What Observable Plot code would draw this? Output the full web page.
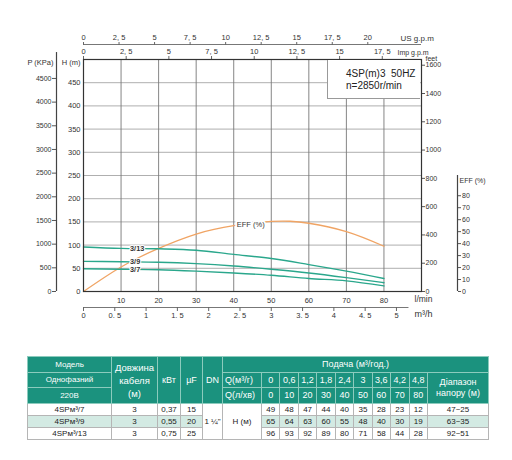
<!DOCTYPE html>
<html><head><meta charset="utf-8">
<script src="https://cdn.jsdelivr.net/npm/d3@7"></script>
<script src="https://cdn.jsdelivr.net/npm/@observablehq/plot@0.6"></script>
<style>
body{margin:0;background:#fff;font-family:"Liberation Sans",Arial,sans-serif;}
#wrap{position:relative;width:512px;height:460px;overflow:hidden;background:#fff;}
#chart{position:absolute;left:0;top:0;}
#box{position:absolute;left:327px;top:60px;width:93px;height:39px;background:#fff;border-left:1px solid #999;border-bottom:1px solid #999;font-size:10px;line-height:11.5px;color:#222;padding:8px 0 0 18px;box-sizing:border-box;white-space:pre;}
table{position:absolute;left:27px;top:356px;width:461px;border-collapse:collapse;table-layout:fixed;text-align:center;font-family:"Liberation Sans",Arial,sans-serif;}
th{background:#1b927e;color:#fff;font-weight:normal;border:1px solid #8ccbbd;padding:0;line-height:1;font-size:9px;}
td{border:1px solid #b5b5b5;color:#222;padding:0;line-height:1;font-size:8px;height:11px;}
tr.alt td.v{background:#d3eae3;}
tr.h1{height:16px;} tr.h2{height:15px;} tr.h3{height:16px;}
th.sm{font-size:8px;}
</style>
</head><body>
<div id="wrap"><div id="chart"></div><div id="box"></div><table id="tbl"></table></div>
<script>
// ---- data ----
const flowLmin = [0, 10, 20, 30, 40, 50, 60, 70, 80];
const flowM3hLabels = ["0", "0,6", "1,2", "1,8", "2,4", "3", "3,6", "4,2", "4,8"];
const head37 = [49, 48, 47, 44, 40, 35, 28, 23, 12];
const head39 = [65, 64, 63, 60, 55, 48, 40, 30, 19];
const head313 = [96, 93, 92, 89, 80, 71, 58, 44, 28];
const seriesNames = ["3/7", "3/9", "3/13"];
const effFlow = [0, 10, 20, 30, 40, 50, 55, 60, 70, 80];
const effPct = [0, 20.5, 36, 48, 55, 58.5, 58.7, 57, 50, 37.8];
const models = ["4SPм³/7", "4SPм³/9", "4SPм³/13"];
const cableLen = ["3", "3", "3"];
const powerKw = ["0,37", "0,55", "0,75"];
const capUf = ["15", "20", "25"];
const headRange = ["47~25", "63~35", "92~51"];
const hTicks = [0, 50, 100, 150, 200, 250, 300, 350, 400, 450];
const kpaTicks = [0, 500, 1000, 1500, 2000, 2500, 3000, 3500, 4000, 4500];
const feetTicks = [0, 200, 400, 600, 800, 1000, 1200, 1400, 1600];
const effTicks = [0, 10, 20, 30, 40, 50, 60, 70, 80];
const lminTicks = [10, 20, 30, 40, 50, 60, 70, 80];
const usGpmTicks = [0, 2.5, 5, 7.5, 10, 12.5, 15, 17.5, 20];
const impGpmTicks = [0, 2.5, 5, 7.5, 10, 12.5, 15, 17.5];
const m3hTicks = [0, 0.5, 1, 1.5, 2, 2.5, 3, 3.5, 4, 4.5, 5];
const titleLines = ["4SP(m)3  50HZ", "n=2850r/min"];

// unit conversions
const L_PER_US = 3.785, L_PER_IMP = 4.546, L_PER_M3H = 1000 / 60;
const KPA_PER_M = 9.8, M_PER_FT = 0.3048, M_PER_EFF = 2.58;

const headRows = [head37, head39, head313];
const headData = seriesNames.flatMap((name, i) => flowLmin.map((q, j) => ({name, q, h: headRows[i][j]})));
const effData = effFlow.map((q, i) => ({q, e: effPct[i] * M_PER_EFF}));
const r1 = v => Math.round(v * 10) / 10;
const fmtTop = v => String(r1(v)).replace(".", ", ");
const fmtBot = v => String(r1(v)).replace(".", ". ");
const fmtInt = v => String(Math.round(v));

const green = "#2aa78c", orange = "#f0a464", ink = "#333";

const chart = Plot.plot({
  width: 512, height: 335,
  marginLeft: 83, marginRight: 91, marginTop: 59, marginBottom: 44,
  x: {domain: [0, 90], axis: null, label: null},
  y: {domain: [0, 500], axis: null, label: null},
  style: {fontFamily: "Liberation Sans, Arial, sans-serif", fontSize: "7px", color: ink, background: "white"},
  marks: [
    Plot.gridY(hTicks.filter(d => d > 0), {stroke: "#9a9a9a", strokeOpacity: 1, strokeWidth: 0.8}),
    Plot.gridX(lminTicks, {stroke: "#777", strokeOpacity: 1, strokeWidth: 0.9}),
    // H axis
    Plot.axisY(hTicks, {anchor: "left", tickSize: 0, tickPadding: 3, fontSize: 7.5, tickFormat: fmtInt, label: null}),
    Plot.text(["H (m)"], {frameAnchor: "top-left", dx: -3, textAnchor: "end", fontSize: 7.5, fill: ink}),
    // P axis
    Plot.ruleX([0], {y1: 0, y2: 515, dx: -27, stroke: "#444", strokeWidth: 1.2}),
    Plot.axisY(kpaTicks.map(k => k / KPA_PER_M), {anchor: "left", dx: -27, tickSize: 4, tickPadding: 1, stroke: "#555", tickFormat: d => fmtInt(d * KPA_PER_M), fontSize: 7, label: null}),
    Plot.text(["P (KPa)"], {frameAnchor: "top-left", dx: -30, textAnchor: "end", fontSize: 7.5, fill: ink}),
    // feet axis
    Plot.axisY(feetTicks.map(f => f * M_PER_FT), {anchor: "right", tickSize: 3, tickPadding: 1, stroke: "#555", tickFormat: d => fmtInt(d / M_PER_FT), fontSize: 7, label: null}),
    Plot.text(["feet"], {frameAnchor: "top-right", dx: 4, dy: -3, textAnchor: "start", fontSize: 7, fill: ink}),
    // EFF axis
    Plot.ruleX([90], {y1: 0, y2: 250, dx: 36, stroke: "#444", strokeWidth: 1.2}),
    Plot.axisY(effTicks.map(e => e * M_PER_EFF), {anchor: "right", dx: 36, tickSize: 3, tickPadding: 1.5, stroke: "#555", tickFormat: d => fmtInt(d / M_PER_EFF), fontSize: 7, label: null}),
    Plot.text(["EFF (%)"], {frameAnchor: "bottom-right", dx: 38, dy: -109, textAnchor: "start", fontSize: 7, fill: ink}),
    // top US gpm axis
    Plot.ruleY([500], {x1: 0, x2: 90, dy: -15, stroke: "#777", strokeWidth: 1}),
    Plot.axisX(usGpmTicks.map(g => g * L_PER_US), {anchor: "top", dy: -15, tickSize: 3, tickPadding: 1.5, stroke: "#666", tickFormat: d => fmtTop(d / L_PER_US), fontSize: 7.5, label: null}),
    Plot.text(["US g.p.m"], {frameAnchor: "top-right", dx: -21, dy: -24, textAnchor: "start", fontSize: 8, fill: ink}),
    // top Imp gpm axis
    Plot.axisX(impGpmTicks.map(g => g * L_PER_IMP), {anchor: "top", tickSize: 4, tickPadding: 1.5, stroke: "#666", tickFormat: d => fmtTop(d / L_PER_IMP), fontSize: 7.5, label: null}),
    Plot.text(["Imp g.p.m"], {frameAnchor: "top-right", dx: -24, dy: -9, textAnchor: "start", fontSize: 7, fill: ink}),
    // bottom l/min
    Plot.axisX(lminTicks, {anchor: "bottom", tickSize: 0, tickPadding: 6, fontSize: 7.5, tickFormat: fmtInt, label: null}),
    Plot.text(["l/min"], {frameAnchor: "bottom-right", dx: -7, dy: 10.5, textAnchor: "start", fontSize: 8.5, fill: ink}),
    // bottom m3/h
    Plot.ruleY([0], {x1: 0, x2: 5.2 * L_PER_M3H, dy: 16, stroke: "#777", strokeWidth: 1}),
    Plot.axisX(m3hTicks.map(v => v * L_PER_M3H), {anchor: "bottom", dy: 16, tickSize: 4, tickPadding: 1.5, stroke: "#666", tickFormat: d => fmtBot(d / L_PER_M3H), fontSize: 7.5, label: null}),
    Plot.text(["m³/h"], {frameAnchor: "bottom-right", dx: -7, dy: 25, textAnchor: "start", fontSize: 9, fill: ink}),
    // curves
    Plot.line(effData, {x: "q", y: "e", stroke: orange, strokeWidth: 1.3, curve: "natural"}),
    Plot.line(headData, {x: "q", y: "h", z: "name", stroke: green, strokeWidth: 1.4, curve: "monotone-x"}),
    Plot.text(seriesNames.map((name, i) => ({name, q: flowLmin[1], h: headRows[i][1]})), {x: "q", y: "h", text: "name", dx: 9, textAnchor: "start", fontSize: 7.3, fontWeight: "bold", fill: ink, stroke: "white", strokeWidth: 2}),
    Plot.text([effData[4]], {x: "q", y: "e", text: () => "EFF (%)", dx: 3, dy: -1, textAnchor: "start", fontSize: 7.5, fill: ink, stroke: "white", strokeWidth: 4}),
    Plot.frame({stroke: "#333", strokeWidth: 1.2})
  ]
});
document.getElementById("chart").append(chart);
document.getElementById("box").textContent = titleLines.join("\n");

// ---- table ----
const colW = [84, 46, 23, 22, 20, 39, ...flowLmin.map(() => 166 / 9), 61];
let html = "<colgroup>" + colW.map(w => `<col style="width:${w}px">`).join("") + "</colgroup>";
html += `<tr class="h1"><th class="sm">Модель</th><th rowspan="3" style="font-size:9.5px;line-height:13px">Довжина<br>кабеля<br>(м)</th><th rowspan="3">кВт</th><th rowspan="3">µF</th><th rowspan="3">DN</th><th colspan="11">Подача (м³/год.)</th></tr>`;
html += `<tr class="h2"><th class="sm">Однофазний</th><th style="text-align:left;padding-left:2px">Q(м³/г)</th>` + flowM3hLabels.map(v => `<th>${v}</th>`).join("") + `<th rowspan="2" style="line-height:11px">Діапазон<br>напору (м)</th></tr>`;
html += `<tr class="h3"><th class="sm">220В</th><th style="text-align:left;padding-left:2px">Q(л/хв)</th>` + flowLmin.map(v => `<th>${v}</th>`).join("") + `</tr>`;
models.forEach((m, i) => {
  html += `<tr class="${i === 1 ? "alt" : ""}"><td class="v">${m}</td><td class="v">${cableLen[i]}</td><td class="v">${powerKw[i]}</td><td class="v">${capUf[i]}</td>`;
  if (i === 0) html += `<td rowspan="3">1 ¼"</td><td rowspan="3">H (м)</td>`;
  html += headRows[i].map(v => `<td class="v">${v}</td>`).join("") + `<td class="v">${headRange[i]}</td></tr>`;
});
document.getElementById("tbl").innerHTML = html;
</script>
</body></html>
